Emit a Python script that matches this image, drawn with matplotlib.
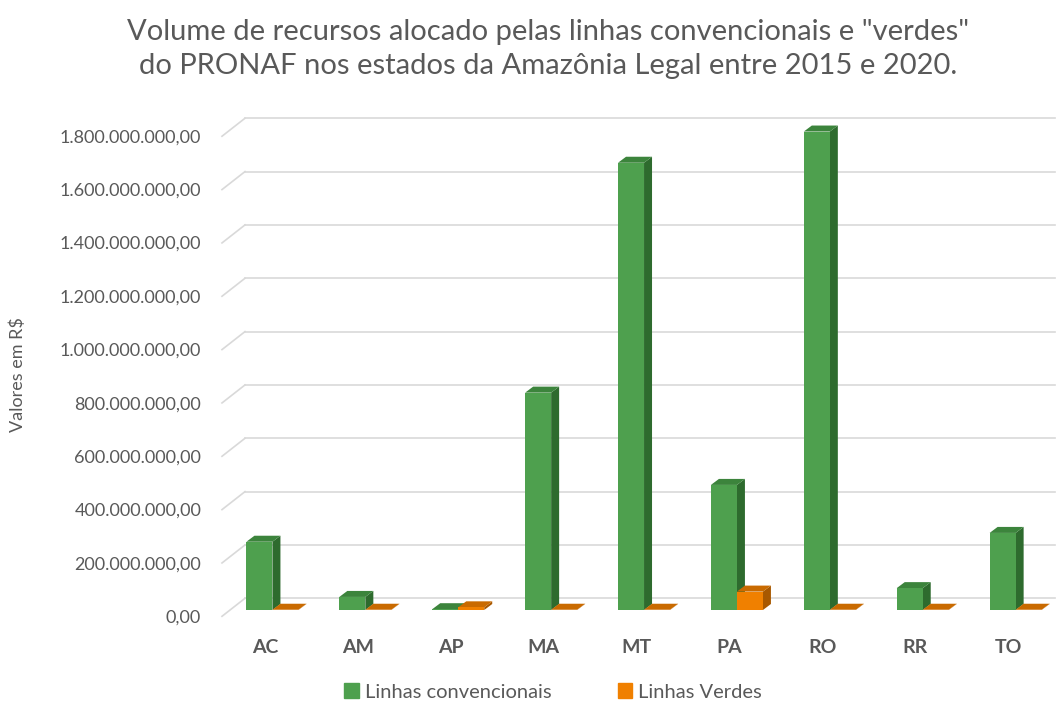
import numpy as np
import matplotlib.pyplot as plt
from matplotlib.patches import Polygon, Patch
from matplotlib.transforms import ScaledTranslation

plt.rcParams['font.family'] = ['Lato', 'DejaVu Sans']

# dados (R$)
estados = ["AC", "AM", "AP", "MA", "MT", "PA", "RO", "RR", "TO"]
convencionais = [256e6, 49e6, 3e6, 815e6, 1677e6, 469e6, 1794e6, 82e6, 289e6]
verdes = [1e6, 1e6, 10e6, 1e6, 1e6, 69e6, 1e6, 1e6, 1e6]
yticks = np.arange(0, 1.8e9 + 1, 2e8)

cinza = "#595959"
verde = ("#4EA04E", "#3C843C", "#2E6B2E")     # frente, topo, lado
laranja = ("#F08000", "#C96A00", "#A85800")

W, H = 1063, 706
fig = plt.figure(figsize=(W / 100, H / 100), dpi=100)
# área do gráfico em pixels
x0px, x1px, y0px, y1px = 222, 1055, 610, 110
ax = fig.add_axes([x0px / W, (H - y0px) / H, (x1px - x0px) / W, (y0px - y1px) / H])

xl = ((x0px - 265) / 92.9, (x1px - 265) / 92.9)
yl = (0, (y0px - y1px) / 266.7 * 1e9)
ax.set_xlim(xl)
ax.set_ylim(yl)
px_x = (xl[1] - xl[0]) / (x1px - x0px)   # unidades por pixel
px_y = (yl[1] - yl[0]) / (y0px - y1px)

# grade 3D (parede lateral + fundo)
for v in yticks:
    ax.plot([xl[0], xl[0] + 23 * px_x], [v - 6.3 * px_y, v + 11.7 * px_y],
            color="#D9D9D9", lw=1.2, zorder=0, clip_on=False)
    ax.plot([xl[0] + 23 * px_x, xl[1]], [v + 11.7 * px_y] * 2,
            color="#D9D9D9", lw=1.2, zorder=0, clip_on=False)

x = np.arange(len(estados))
w = 26 * px_x
sh = 0.08
dx, dy = 8 * px_x, 6 * px_y


def barra3d(xs, vals, cores, z):
    for xi, v in zip(xs, vals):
        ax.add_patch(Polygon([(xi + w, 0), (xi + w + dx, dy), (xi + w + dx, v + dy), (xi + w, v)],
                             closed=True, fc=cores[2], ec="none", zorder=z))
        ax.add_patch(Polygon([(xi, v), (xi + dx, v + dy), (xi + w + dx, v + dy), (xi + w, v)],
                             closed=True, fc=cores[1], ec="none", zorder=z))
    ax.bar(xs, vals, width=w, align="edge", color=cores[0], zorder=z)


barra3d(x + sh - w, convencionais, verde, 2)
barra3d(x + sh, verdes, laranja, 3)

for s in ax.spines.values():
    s.set_visible(False)

ax.set_xticks(x)
ax.set_xticklabels(estados, fontsize=14, fontweight="bold", color=cinza)
ax.tick_params(axis="x", length=0, pad=21)
ax.set_yticks(yticks)
ax.set_yticklabels([f"{v:,.2f}".replace(",", "X").replace(".", ",").replace("X", ".") for v in yticks],
                   fontsize=13, color=cinza)
ax.tick_params(axis="y", length=0, pad=15)
for lb in ax.get_yticklabels():
    lb.set_transform(lb.get_transform() + ScaledTranslation(0, -6 / 100, fig.dpi_scale_trans))

fig.text(18 / W, 1 - 375 / H, "Valores em R$", rotation=90, fontsize=13, color=cinza,
         ha="center", va="center")

fig.text(548 / W, 1 - 49 / H,
         'Volume de recursos alocado pelas linhas convencionais e "verdes"\n'
         'do PRONAF nos estados da Amazônia Legal entre 2015 e 2020.',
         ha="center", va="center", fontsize=21, color=cinza, linespacing=1.35)

fig.legend(handles=[Patch(color=verde[0], label="Linhas convencionais"),
                    Patch(color=laranja[0], label="Linhas Verdes")],
           loc="center", bbox_to_anchor=(553 / W, 1 - 692 / H), ncol=2, frameon=False,
           fontsize=14.5, handlelength=0.7, handleheight=0.7, columnspacing=3.3,
           handletextpad=0.3, labelcolor=cinza)

fig.savefig("out.png", dpi=100)
